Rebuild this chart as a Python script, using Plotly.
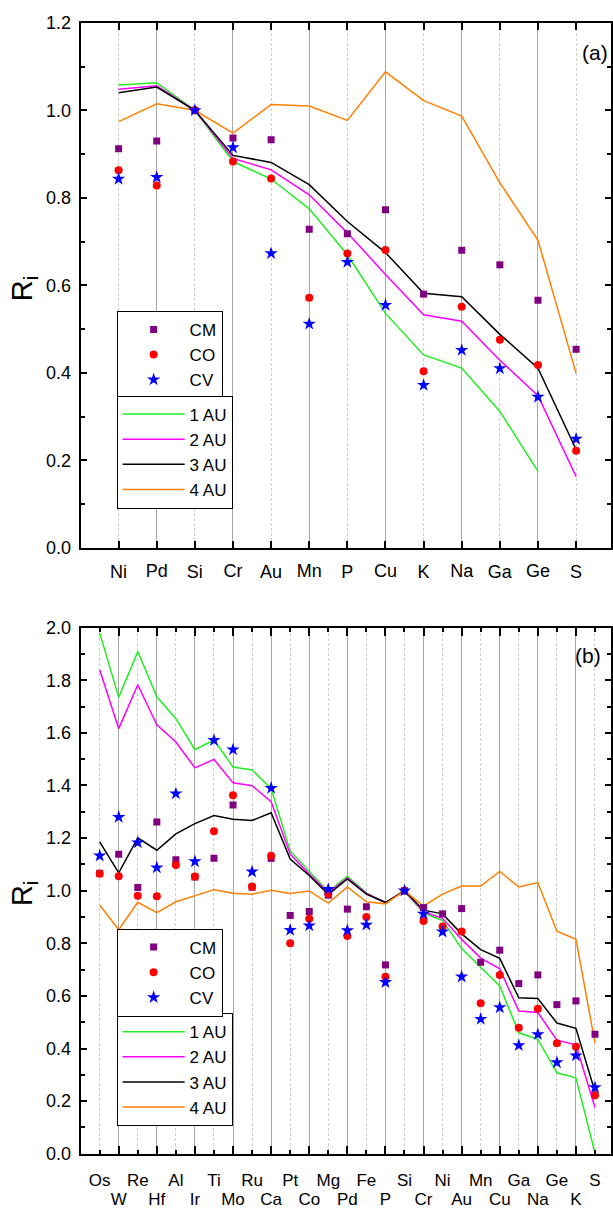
import plotly.graph_objects as go

# ---------------- data: panel (a) ----------------
top_cats = ["Ni", "Pd", "Si", "Cr", "Au", "Mn", "P", "Cu", "K", "Na", "Ga", "Ge", "S"]
top_cm = [0.912, 0.930, 1.0, 0.937, 0.933, 0.728, 0.718, 0.773, 0.580, 0.680, 0.647, 0.566, 0.454]
top_co = [0.863, 0.828, 1.0, 0.883, 0.844, 0.572, 0.673, 0.681, 0.404, 0.551, 0.476, 0.418, 0.222]
top_cv = [0.843, 0.847, 1.0, 0.915, 0.673, 0.512, 0.653, 0.555, 0.372, 0.452, 0.410, 0.345, 0.249]
top_au1 = [1.058, 1.063, 1.0, 0.883, 0.843, 0.775, 0.670, 0.536, 0.441, 0.411, 0.312, 0.175, None]
top_au2 = [1.048, 1.056, 1.0, 0.890, 0.864, 0.807, 0.720, 0.625, 0.533, 0.518, 0.429, 0.348, 0.163]
top_au3 = [1.040, 1.053, 1.0, 0.897, 0.881, 0.830, 0.746, 0.675, 0.582, 0.574, 0.488, 0.411, 0.225]
top_au4 = [0.974, 1.015, 1.0, 0.948, 1.013, 1.010, 0.977, 1.088, 1.022, 0.987, 0.834, 0.703, 0.399]

# ---------------- data: panel (b) ----------------
bot_cats = ["Os", "W", "Re", "Hf", "Al", "Ir", "Ti", "Mo", "Ru", "Ca", "Pt", "Co", "Mg", "Pd",
            "Fe", "P", "Si", "Cr", "Ni", "Au", "Mn", "Cu", "Ga", "Na", "Ge", "K", "S"]
bot_cm = [1.066, 1.139, 1.012, 1.261, 1.118, 1.052, 1.123, 1.326, 1.013, 1.123, 0.906, 0.921, 0.983,
          0.930, 0.939, 0.718, 1.0, 0.936, 0.912, 0.932, 0.728, 0.774, 0.647, 0.680, 0.567, 0.581, 0.454]
bot_co = [1.064, 1.055, 0.981, 0.979, 1.098, 1.054, 1.226, 1.363, 1.016, 1.133, 0.800, 0.893, 0.988,
          0.828, 0.900, 0.673, 1.0, 0.885, 0.864, 0.845, 0.572, 0.680, 0.479, 0.551, 0.420, 0.407, 0.223]
bot_cv = [1.133, 1.280, 1.183, 1.088, 1.369, 1.111, 1.572, 1.536, 1.072, 1.390, 0.850, 0.867, 1.006,
          0.849, 0.870, 0.652, 1.0, 0.912, 0.844, 0.673, 0.512, 0.556, 0.412, 0.454, 0.347, 0.373, 0.252]
bot_au1 = [1.980, 1.735, 1.909, 1.737, 1.654, 1.536, 1.573, 1.470, 1.459, 1.388, 1.151, 1.073, 0.996,
           1.055, 0.992, 0.955, 1.0, 0.915, 0.887, 0.780, 0.707, 0.638, 0.460, 0.435, 0.308, 0.289, 0.003]
bot_au2 = [1.840, 1.616, 1.783, 1.631, 1.565, 1.467, 1.499, 1.410, 1.399, 1.338, 1.139, 1.063, 0.992,
           1.048, 0.990, 0.955, 1.0, 0.920, 0.895, 0.815, 0.744, 0.703, 0.543, 0.537, 0.432, 0.414, 0.176]
bot_au3 = [1.186, 1.068, 1.201, 1.154, 1.216, 1.255, 1.286, 1.272, 1.267, 1.296, 1.120, 1.058, 0.986,
           1.045, 0.987, 0.955, 1.0, 0.926, 0.912, 0.836, 0.776, 0.743, 0.593, 0.590, 0.497, 0.477, 0.236]
bot_au4 = [0.946, 0.852, 0.956, 0.917, 0.958, 0.981, 1.004, 0.990, 0.987, 1.002, 0.989, 0.999, 0.953,
           1.014, 0.958, 0.950, 1.0, 0.942, 0.987, 1.018, 1.018, 1.073, 1.014, 1.031, 0.846, 0.815, 0.422]

line_names = ["1 AU", "2 AU", "3 AU", "4 AU"]
line_colors = ["#22ee22", "#ff00ff", "#000000", "#ff8000"]
marker_names = ["CM", "CO", "CV"]
marker_colors = ["#800080", "#ff0000", "#0000ff"]
marker_symbols = ["square", "circle", "star"]
marker_sizes = [7, 8, 10]

FONT = "Liberation Sans, Arial, sans-serif"
W, H = 613, 1211

fig = go.Figure()

panels = [
    dict(cats=top_cats, lines=[top_au1, top_au2, top_au3, top_au4], pts=[top_cm, top_co, top_cv],
         xa="x", ya="y", xl="x3", leg_m="legend", leg_l="legend2"),
    dict(cats=bot_cats, lines=[bot_au1, bot_au2, bot_au3, bot_au4], pts=[bot_cm, bot_co, bot_cv],
         xa="x2", ya="y2", xl="x4", leg_m="legend3", leg_l="legend4"),
]

for p in panels:
    xs = list(range(len(p["cats"])))
    for name, col, vals in zip(line_names, line_colors, p["lines"]):
        fig.add_trace(go.Scatter(x=xs, y=vals, mode="lines", name=name,
                                 line=dict(color=col, width=1.5),
                                 xaxis=p["xa"], yaxis=p["ya"], legend=p["leg_l"]))
    for name, col, sym, sz, vals in zip(marker_names, marker_colors, marker_symbols, marker_sizes, p["pts"]):
        fig.add_trace(go.Scatter(x=xs, y=vals, mode="markers", name=name,
                                 marker=dict(color=col, symbol=sym, size=sz, line=dict(width=0)),
                                 xaxis=p["xa"], yaxis=p["ya"], legend=p["leg_m"]))
    # invisible carrier trace so the overlaid label axis is drawn
    fig.add_trace(go.Scatter(x=xs, y=p["pts"][0], mode="none", showlegend=False, hoverinfo="skip",
                             xaxis=p["xl"], yaxis=p["ya"]))

xdom = [81 / W, 1.0]
top_dom = [1 - 547 / H, 1 - 13 / H]
bot_dom = [1 - 1163 / H, 1 - 628 / H]

top_range = [-0.993, 12.915]
bot_range = [-0.994, 26.84]


def main_x(cats, rng, anchor, long_len, short_len, standoff, size):
    odd = [i for i in range(len(cats)) if i % 2 == 1]
    even = [i for i in range(len(cats)) if i % 2 == 0]
    return dict(domain=xdom, range=rng, anchor=anchor, tickmode="array",
                tickvals=odd, ticktext=[cats[i] for i in odd],
                ticks="inside", ticklen=long_len, tickwidth=1.5, tickcolor="black",
                showline=True, linewidth=2, linecolor="black", mirror="ticks",
                showgrid=True, gridcolor="#a8a8a8", gridwidth=1.3, zeroline=False,
                tickfont=dict(family=FONT, size=size, color="black"), ticklabelstandoff=standoff,
                minor=dict(tickmode="array", tickvals=even, ticks="inside", ticklen=short_len,
                           tickwidth=1.5, tickcolor="black", showgrid=True,
                           gridcolor="#cfcfcf", gridwidth=1, griddash="3px,2px"))


def label_x(cats, rng, anchor, overlay, standoff, size):
    even = [i for i in range(len(cats)) if i % 2 == 0]
    return dict(domain=xdom, range=rng, anchor=anchor, overlaying=overlay, side="bottom",
                tickmode="array", tickvals=even, ticktext=[cats[i] for i in even],
                ticks="", showline=False, showgrid=False, zeroline=False,
                tickfont=dict(family=FONT, size=size, color="black"), ticklabelstandoff=standoff)


def main_y(dom, rng, anchor):
    return dict(domain=dom, range=rng, anchor=anchor, tickmode="linear", tick0=0, dtick=0.2,
                tickformat=".1f", ticks="inside", ticklen=6, tickwidth=1.5, tickcolor="black",
                showline=True, linewidth=2, linecolor="black", mirror="ticks",
                showgrid=False, zeroline=False,
                tickfont=dict(family=FONT, size=18, color="black"), ticklabelstandoff=4,
                minor=dict(tick0=0, dtick=0.1, ticks="inside", ticklen=4,
                           tickwidth=1.5, tickcolor="black", showgrid=False))


legend_common = dict(bgcolor="white", bordercolor="black", borderwidth=1,
                     font=dict(family=FONT, size=17, color="black"),
                     xanchor="left", yanchor="top", tracegroupgap=0)

fig.update_layout(
    width=W, height=H, margin=dict(l=0, r=0, t=0, b=0),
    paper_bgcolor="white", plot_bgcolor="white",
    font=dict(family=FONT, color="black"),
    xaxis=main_x(top_cats, top_range, "y", 7, 7, 5, 18),
    xaxis3=label_x(top_cats, top_range, "y", "x", 11, 18),
    yaxis=main_y(top_dom, [0, 1.2], "x"),
    xaxis2=main_x(bot_cats, bot_range, "y2", 8, 4, 29, 17),
    xaxis4=label_x(bot_cats, bot_range, "y2", "x2", 14, 17),
    yaxis2=main_y(bot_dom, [0, 2.0], "x2"),
    legend=dict(legend_common, x=117 / W, y=1 - 306 / H, itemwidth=62),
    legend2=dict(legend_common, x=117 / W, y=1 - 392 / H, itemwidth=62),
    legend3=dict(legend_common, x=117 / W, y=1 - 934 / H, itemwidth=62),
    legend4=dict(legend_common, x=117 / W, y=1 - 1020 / H, itemwidth=62),
    showlegend=True,
    annotations=[
        dict(text="(a)", x=597 / W, y=1 - 43 / H, xref="paper", yref="paper", showarrow=False,
             xanchor="center", yanchor="middle", font=dict(family=FONT, size=21, color="black")),
        dict(text="(b)", x=590 / W, y=1 - 656 / H, xref="paper", yref="paper", showarrow=False,
             xanchor="center", yanchor="middle", font=dict(family=FONT, size=21, color="black")),
        dict(text="R<sub>i</sub>", x=24 / W, y=1 - 283 / H, xref="paper", yref="paper", showarrow=False,
             textangle=-90, xanchor="center", yanchor="middle", font=dict(family=FONT, size=29, color="black")),
        dict(text="R<sub>i</sub>", x=24 / W, y=1 - 898 / H, xref="paper", yref="paper", showarrow=False,
             textangle=-90, xanchor="center", yanchor="middle", font=dict(family=FONT, size=29, color="black")),
    ],
)

fig.write_html("out.html")
